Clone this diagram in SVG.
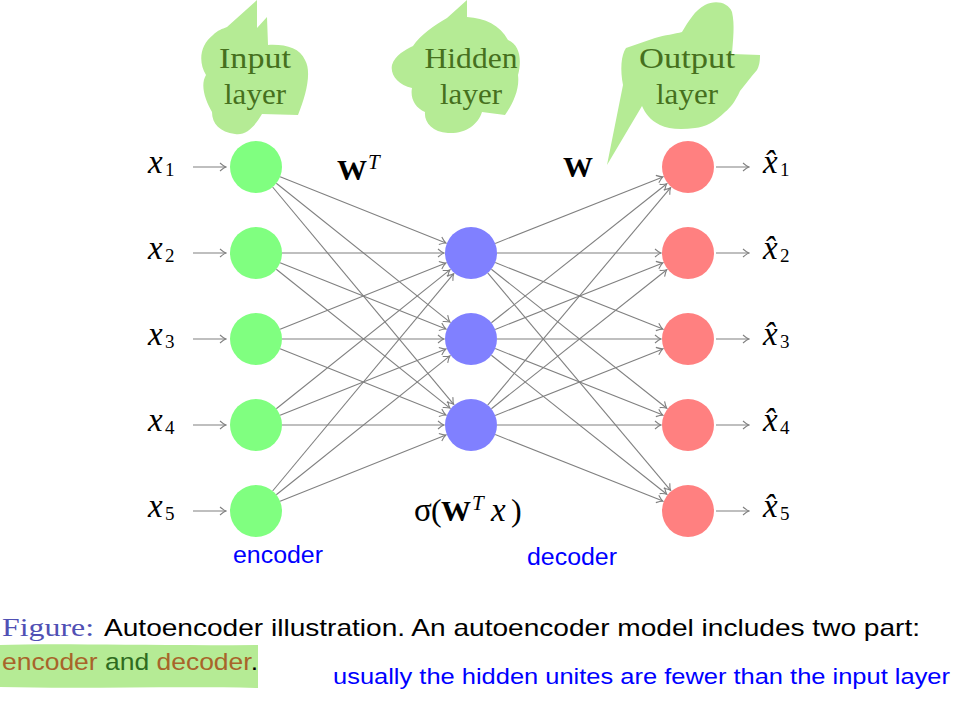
<svg xmlns="http://www.w3.org/2000/svg" width="954" height="702" viewBox="0 0 954 702">
<style>
.blob{fill:#b5eb95;stroke:none}
.btxt{font-family:"Liberation Serif",serif;font-size:29px;fill:#46701e;text-anchor:middle}
.in{fill:#80ff80}
.hid{fill:#8080ff}
.out{fill:#ff8080}
.e{stroke:#808080;stroke-width:1.1;fill:none;marker-end:url(#ah)}
.m{font-family:"Liberation Serif",serif;font-size:33px;fill:#000;font-style:italic}
.sub{font-style:normal;font-size:19px}
.bold{font-family:"Liberation Serif",serif;font-weight:bold;font-size:30px;fill:#000}
.blue{font-family:"Liberation Sans",Arial,sans-serif;fill:#0000ff}
</style>
<defs>
<marker id="ah" viewBox="-8 -5 9 10" refX="0" refY="0" markerWidth="9" markerHeight="10" markerUnits="userSpaceOnUse" orient="auto">
<path d="M-6,-4 Q-2,-0.6 0,0 Q-2,0.6 -6,4" fill="none" stroke="#808080" stroke-width="1.1"/>
</marker>
</defs>
<rect width="954" height="702" fill="#fff"/>

<g id="callout-input">
<path class="blob" d="M257,0 L257,28 L267,17 L268,45 C285,44 300,48 305,60 C312,72 306,95 298,115 L262,114 C255,126 246,136 235,134 C220,132 212,124 212,112 C205,100 200,85 206,75 C198,62 200,45 213,35 C218,30 222,29 227,27 Z"/>
<text class="btxt" x="255" y="68" textLength="72" lengthAdjust="spacingAndGlyphs">Input</text>
<text class="btxt" x="255" y="104" textLength="62" lengthAdjust="spacingAndGlyphs">layer</text>
</g>
<g id="callout-hidden">
<path class="blob" d="M467,0 L467,17 C485,18 500,25 508,40 C520,45 522,60 518,75 C520,90 512,105 505,115 L482,112 C478,125 465,134 448,133 C432,132 424,122 425,112 C415,108 410,98 412,88 C398,85 390,75 392,65 C395,55 405,50 413,46 C420,35 435,25 447,18 Z"/>
<text class="btxt" x="471" y="68" textLength="93" lengthAdjust="spacingAndGlyphs">Hidden</text>
<text class="btxt" x="471" y="104" textLength="62" lengthAdjust="spacingAndGlyphs">layer</text>
</g>
<g id="callout-output">
<path class="blob" d="M607,165 L623,85 C620,70 621,55 626,48 L655,38 C665,35 675,34 682,32 C688,22 695,10 705,5 C715,0 728,2 732,12 C735,25 733,40 732,54 L760,55 C760,62 759,66 757,70 C750,78 745,85 740,91 C735,102 730,108 725,112 C715,122 705,127 695,128 C680,130 668,129 660,125 C650,120 645,113 642,106 Z"/>
<text class="btxt" x="687" y="68" textLength="96" lengthAdjust="spacingAndGlyphs">Output</text>
<text class="btxt" x="687" y="104" textLength="62" lengthAdjust="spacingAndGlyphs">layer</text>
</g>

<g id="connectors">
<line class="e" x1="193" y1="167" x2="226" y2="167"/>
<line class="e" x1="193" y1="253" x2="226" y2="253"/>
<line class="e" x1="193" y1="339" x2="226" y2="339"/>
<line class="e" x1="193" y1="425" x2="226" y2="425"/>
<line class="e" x1="193" y1="511" x2="226" y2="511"/>

<line class="e" x1="280.1" y1="176.7" x2="445.9" y2="243.0"/>
<line class="e" x1="276.3" y1="183.2" x2="449.9" y2="322.1"/>
<line class="e" x1="272.6" y1="187.0" x2="453.7" y2="404.3"/>
<line class="e" x1="282" y1="253" x2="444" y2="253"/>
<line class="e" x1="280.1" y1="262.7" x2="445.9" y2="329.0"/>
<line class="e" x1="276.3" y1="269.2" x2="449.9" y2="408.1"/>
<line class="e" x1="280.1" y1="329.3" x2="445.9" y2="263.0"/>
<line class="e" x1="282" y1="339" x2="444" y2="339"/>
<line class="e" x1="280.1" y1="348.7" x2="445.9" y2="415.0"/>
<line class="e" x1="276.3" y1="408.8" x2="449.9" y2="269.9"/>
<line class="e" x1="280.1" y1="415.3" x2="445.9" y2="349.0"/>
<line class="e" x1="282" y1="425" x2="444" y2="425"/>
<line class="e" x1="272.6" y1="491.0" x2="453.7" y2="273.7"/>
<line class="e" x1="276.3" y1="494.8" x2="449.9" y2="355.9"/>
<line class="e" x1="280.1" y1="501.3" x2="445.9" y2="435.0"/>

<line class="e" x1="495.2" y1="243.4" x2="662.9" y2="176.9"/>
<line class="e" x1="497" y1="253" x2="661" y2="253"/>
<line class="e" x1="495.2" y1="262.6" x2="662.9" y2="329.1"/>
<line class="e" x1="491.4" y1="269.2" x2="666.8" y2="408.2"/>
<line class="e" x1="487.7" y1="272.9" x2="670.6" y2="490.3"/>
<line class="e" x1="491.4" y1="322.8" x2="666.8" y2="183.8"/>
<line class="e" x1="495.2" y1="329.4" x2="662.9" y2="262.9"/>
<line class="e" x1="497" y1="339" x2="661" y2="339"/>
<line class="e" x1="495.2" y1="348.6" x2="662.9" y2="415.1"/>
<line class="e" x1="491.4" y1="355.2" x2="666.8" y2="494.2"/>
<line class="e" x1="487.7" y1="405.1" x2="670.6" y2="187.7"/>
<line class="e" x1="491.4" y1="408.8" x2="666.8" y2="269.8"/>
<line class="e" x1="495.2" y1="415.4" x2="662.9" y2="348.9"/>
<line class="e" x1="497" y1="425" x2="661" y2="425"/>
<line class="e" x1="495.2" y1="434.6" x2="662.9" y2="501.1"/>

<line class="e" x1="716" y1="167" x2="749" y2="167"/>
<line class="e" x1="716" y1="253" x2="749" y2="253"/>
<line class="e" x1="716" y1="339" x2="749" y2="339"/>
<line class="e" x1="716" y1="425" x2="749" y2="425"/>
<line class="e" x1="716" y1="511" x2="749" y2="511"/>
</g>

<g id="input-nodes">
<g id="in1"><circle class="in" cx="256" cy="167" r="26"/><text class="m" x="148" y="173">x<tspan class="sub" x="165" y="176">1</tspan></text></g>
<g id="in2"><circle class="in" cx="256" cy="253" r="26"/><text class="m" x="148" y="259">x<tspan class="sub" x="165" y="262">2</tspan></text></g>
<g id="in3"><circle class="in" cx="256" cy="339" r="26"/><text class="m" x="148" y="345">x<tspan class="sub" x="165" y="348">3</tspan></text></g>
<g id="in4"><circle class="in" cx="256" cy="425" r="26"/><text class="m" x="148" y="431">x<tspan class="sub" x="165" y="434">4</tspan></text></g>
<g id="in5"><circle class="in" cx="256" cy="511" r="26"/><text class="m" x="148" y="517">x<tspan class="sub" x="165" y="520">5</tspan></text></g>
</g>
<g id="hidden-nodes">
<g id="h1"><circle class="hid" cx="471" cy="253" r="26"/></g>
<g id="h2"><circle class="hid" cx="471" cy="339" r="26"/></g>
<g id="h3"><circle class="hid" cx="471" cy="425" r="26"/></g>
</g>
<g id="output-nodes">
<g id="o1"><circle class="out" cx="688" cy="167" r="26"/><text class="m" x="763" y="173">x̂<tspan class="sub" x="780" y="176">1</tspan></text></g>
<g id="o2"><circle class="out" cx="688" cy="253" r="26"/><text class="m" x="763" y="259">x̂<tspan class="sub" x="780" y="262">2</tspan></text></g>
<g id="o3"><circle class="out" cx="688" cy="339" r="26"/><text class="m" x="763" y="345">x̂<tspan class="sub" x="780" y="348">3</tspan></text></g>
<g id="o4"><circle class="out" cx="688" cy="425" r="26"/><text class="m" x="763" y="431">x̂<tspan class="sub" x="780" y="434">4</tspan></text></g>
<g id="o5"><circle class="out" cx="688" cy="511" r="26"/><text class="m" x="763" y="517">x̂<tspan class="sub" x="780" y="520">5</tspan></text></g>
</g>

<g id="labels">
<text class="bold" x="337" y="180">W<tspan font-style="italic" font-weight="normal" font-size="21" x="368" y="169">T</tspan></text>
<text class="bold" x="563" y="177">W</text>
<text class="m" x="414" y="521" style="font-style:normal">σ<tspan x="431" font-size="32">(</tspan><tspan x="441" font-weight="bold" font-size="30">W</tspan><tspan x="472" font-style="italic" font-size="21" y="510">T</tspan><tspan x="491" font-style="italic" y="521">x</tspan><tspan x="511" font-size="32">)</tspan></text>
<text class="blue" x="233" y="563" font-size="23" textLength="90" lengthAdjust="spacingAndGlyphs">encoder</text>
<text class="blue" x="527" y="565" font-size="23" textLength="90" lengthAdjust="spacingAndGlyphs">decoder</text>
</g>

<g id="caption">
<path class="blob" d="M0,645 C60,643 150,646 258,645 L258,688 C180,686 80,689 0,687 Z"/>
<text x="2" y="636" font-family="Liberation Serif,serif" font-size="26" fill="#5050b4" textLength="92" lengthAdjust="spacingAndGlyphs">Figure:</text>
<text x="104" y="636" font-family="Liberation Sans,sans-serif" font-size="24" fill="#000" textLength="816" lengthAdjust="spacingAndGlyphs">Autoencoder illustration. An autoencoder model includes two part:</text>
<text x="2" y="670" font-family="Liberation Sans,sans-serif" font-size="24" textLength="256" lengthAdjust="spacingAndGlyphs"><tspan fill="#a8642a">encoder</tspan><tspan fill="#2e6b1e"> and </tspan><tspan fill="#a8642a">decoder</tspan><tspan fill="#000">.</tspan></text>
<text class="blue" x="333" y="684" font-size="22" textLength="617" lengthAdjust="spacingAndGlyphs">usually the hidden unites are fewer than the input layer</text>
</g>
</svg>
